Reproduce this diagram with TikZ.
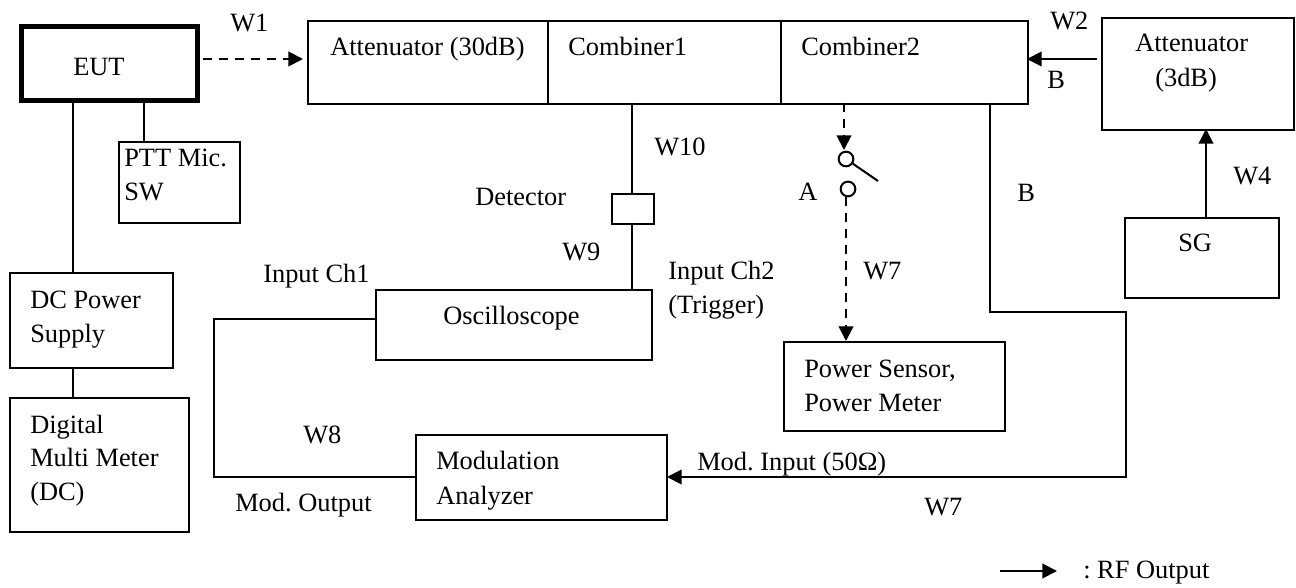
\documentclass[tikz,border=0pt]{standalone}
\usepackage{fontspec}
\setmainfont{Liberation Serif}
\usetikzlibrary{arrows.meta}
\frenchspacing
\tikzset{
 x=0.75pt,y=-0.75pt,
 lbl/.style={inner sep=0pt,anchor=base west,font=\fontsize{19.8}{23}\selectfont},
 boxn/.style={draw,line width=1.5pt,inner sep=0pt},
 wire/.style={line width=1.5pt},
 arr/.style={wire,-{Triangle[length=11pt,width=11pt]}},
 darr/.style={arr,dash pattern=on 7pt off 5pt},
 swc/.style={draw,circle,line width=1.5pt,minimum size=11pt,inner sep=0pt},
}
\newcommand{\bx}[5]{\node[boxn,#5,minimum width=#3*0.75pt,minimum height=#4*0.75pt,anchor=north west] (#1) at (#2) {};}
\begin{document}
\begin{tikzpicture}
\useasboundingbox (0,0) rectangle (1296,588);
\bx{eut}{18.5,24.5}{176.5}{73.5}{line width=3.75pt}
\bx{ptt}{118,141}{121}{81}{}
\bx{dc}{9,272}{163}{95}{}
\bx{dmm}{9,397}{179}{134}{}
\bx{main}{307,20}{720}{83}{}
\bx{att}{1101,17}{192}{112}{}
\bx{sg}{1124,217}{154}{80}{}
\bx{det}{611,193}{42}{30}{}
\bx{osc}{375,289}{276}{70}{}
\bx{mod}{415,434}{251}{85}{}
\bx{pow}{783,341}{221}{89}{}
\node[swc] (s1) at (846,159) {};
\node[swc] (s2) at (848,189) {};
\coordinate (d1t) at (548,20); \coordinate (d1b) at (548,103);
\coordinate (d2t) at (781,20); \coordinate (d2b) at (781,103);
\draw[wire] (d1t)--(d1b); \draw[wire] (d2t)--(d2b);
\coordinate (swend) at (878,181);
\draw[wire] (s1)--(swend);
\coordinate (w1a) at (203,59); \coordinate (w1b) at (303,59);
\draw[darr] (w1a)--(w1b);
\coordinate (w2a) at (1097,59); \coordinate (w2b) at (1027,59);
\draw[arr] (w2a)--(w2b);
\coordinate (a1) at (1206,217); \coordinate (a2) at (1206,129);
\draw[arr] (a1)--(a2);
\coordinate (e1) at (72.5,98); \coordinate (e2) at (72.5,272);
\draw[wire] (e1)--(e2);
\coordinate (p1) at (144,98); \coordinate (p2) at (144,141);
\draw[wire] (p1)--(p2);
\coordinate (m1) at (72.5,367); \coordinate (m2) at (72.5,397);
\draw[wire] (m1)--(m2);
\coordinate (c1) at (632,103); \coordinate (c2) at (632,193);
\draw[wire] (c1)--(c2);
\coordinate (c3) at (632,223); \coordinate (c4) at (632,289);
\draw[wire] (c3)--(c4);
\coordinate (o1) at (375,319); \coordinate (o2) at (213.5,319); \coordinate (o3) at (213.5,477); \coordinate (o4) at (415,477);
\draw[wire] (o1)--(o2)--(o3)--(o4);
\coordinate (b1) at (990,103); \coordinate (b2) at (990,311.5); \coordinate (b3) at (1126,311.5); \coordinate (b4) at (1126,477); \coordinate (b5) at (667,477);
\draw[arr] (b1)--(b2)--(b3)--(b4)--(b5);
\coordinate (sa) at (844,103); \coordinate (sat) at (844,150);
\draw[darr] (sa)--(sat);
\coordinate (sb) at (846,341); \coordinate (sbt) at (846,197);
\draw[darr] (sbt)--(sb);
\coordinate (k1) at (1000,571); \coordinate (k2) at (1057,571);
\draw[arr] (k1)--(k2);
\node[lbl] (t1) at (230,32) {W1};
\node[lbl] (t2) at (73,76) {EUT};
\node[lbl] (t3) at (124,167) {PTT Mic.};
\node[lbl] (t4) at (124,201) {SW};
\node[lbl] (t5) at (330,56) {Attenuator (30dB)};
\node[lbl] (t6) at (568,56) {Combiner1};
\node[lbl] (t7) at (801,56) {Combiner2};
\node[lbl] (t8) at (1050,30) {W2};
\node[lbl] (t9) at (1047,89) {B};
\node[lbl] (t10) at (1135,52) {Attenuator};
\node[lbl] (t11) at (1155,87) {(3dB)};
\node[lbl] (t12) at (1233,185) {W4};
\node[lbl] (t13) at (1178,252) {SG};
\node[lbl] (t14) at (654,156) {W10};
\node[lbl] (t15) at (475,205) {Detector};
\node[lbl] (t16) at (798,201) {A};
\node[lbl] (t17) at (1017,202) {B};
\node[lbl] (t18) at (562,260) {W9};
\node[lbl] (t19) at (263,282) {Input Ch1};
\node[lbl] (t20) at (668,279) {Input Ch2};
\node[lbl] (t21) at (668,313) {(Trigger)};
\node[lbl] (t22) at (863,279) {W7};
\node[lbl] (t23) at (443,324) {Oscilloscope};
\node[lbl] (t24) at (30,308) {DC Power};
\node[lbl] (t25) at (30,342) {Supply};
\node[lbl] (t26) at (30,433) {Digital};
\node[lbl] (t27) at (30,466) {Multi Meter};
\node[lbl] (t28) at (30,500) {(DC)};
\node[lbl] (t29) at (804,377) {Power Sensor,};
\node[lbl] (t30) at (804,411) {Power Meter};
\node[lbl] (t31) at (303,443) {W8};
\node[lbl] (t32) at (436,469) {Modulation};
\node[lbl] (t33) at (436,504) {Analyzer};
\node[lbl] (t34) at (697,470) {Mod. Input (50Ω)};
\node[lbl] (t35) at (235,511) {Mod. Output};
\node[lbl] (t36) at (924,515) {W7};
\node[lbl] (t37) at (1083,578) {: RF Output};
\end{tikzpicture}
\end{document}
